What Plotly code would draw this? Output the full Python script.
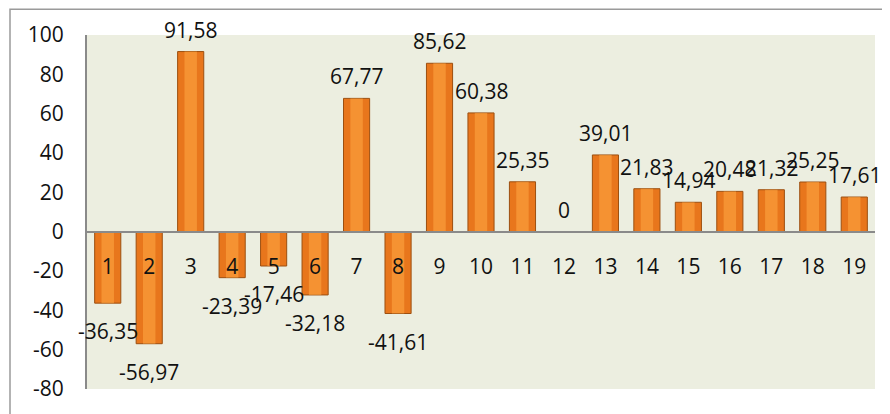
import plotly.graph_objects as go

categories = [str(i) for i in range(1, 20)]
values = [-36.35, -56.97, 91.58, -23.39, -17.46, -32.18, 67.77, -41.61, 85.62,
          60.38, 25.35, 0, 39.01, 21.83, 14.94, 20.48, 21.32, 25.25, 17.61]
y_ticks = [-80, -60, -40, -20, 0, 20, 40, 60, 80, 100]
y_tick_text = [str(t) for t in y_ticks]

FONT = "Open Sans"
FS = 21
labels = [f"{v:.2f}".replace(".", ",") if v != 0 else "0" for v in values]

fig = go.Figure()
fig.add_trace(go.Bar(
    x=categories, y=values,
    marker=dict(color="#E8761C", line=dict(color="#9C4F10", width=1)),
    width=0.63, hoverinfo="skip",
))
fig.add_trace(go.Bar(
    x=categories, y=values,
    marker=dict(color="rgba(255,170,70,0.55)", line=dict(width=0)),
    width=0.3, hoverinfo="skip",
))

for i, (v, t) in enumerate(zip(values, labels)):
    fig.add_annotation(
        x=i, y=v, text=t, showarrow=False, xref="x", yref="y",
        yshift=22 if v >= 0 else -28, yanchor="middle",
        font=dict(family=FONT, size=FS, color="#111111"),
    )

# outer chart border (page body adds an 8px offset)
fig.add_shape(type="rect", xref="paper", yref="paper",
              x0=(2 - 79) / 788, x1=(879 - 79) / 788,
              y0=-0.2, y1=1 + 26 / 357,
              line=dict(color="#9a9a9a", width=1.5), fillcolor="rgba(0,0,0,0)",
              layer="below")

fig.update_layout(
    width=882, height=406,
    margin=dict(l=79, r=15, t=27, b=22),
    paper_bgcolor="white",
    plot_bgcolor="#ECEEE0",
    barmode="overlay",
    showlegend=False,
    font=dict(family=FONT, size=FS, color="#111111"),
    xaxis=dict(
        type="category", range=[-0.5, 18.5],
        anchor="free", position=80 / 180,
        showline=True, linecolor="#8a8a8a", linewidth=2,
        ticks="outside", ticklen=16, tickcolor="rgba(0,0,0,0)",
        showgrid=False, zeroline=False,
        tickfont=dict(family=FONT, size=FS),
    ),
    yaxis=dict(
        range=[-80, 100], tickvals=y_ticks, ticktext=y_tick_text,
        showline=True, linecolor="#8a8a8a", linewidth=2,
        ticks="outside", ticklen=17, tickcolor="rgba(0,0,0,0)",
        showgrid=False, zeroline=False,
        tickfont=dict(family=FONT, size=FS),
    ),
)
fig.update_traces(cliponaxis=False)

fig.write_html("out.html")
